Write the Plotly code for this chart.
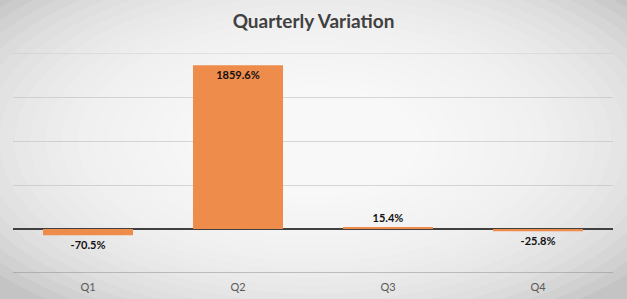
import plotly.graph_objects as go

quarters = ["Q1", "Q2", "Q3", "Q4"]
variation = [-70.5, 1859.6, 15.4, -25.8]
labels = ["-70.5%", "1859.6%", "15.4%", "-25.8%"]
label_pos = ["outside", "inside", "outside", "outside"]

fig = go.Figure()
fig.add_trace(go.Bar(
    x=quarters, y=variation, text=labels, textposition=label_pos,
    insidetextanchor="end", cliponaxis=False,
    marker=dict(color="#EE8C4C", line=dict(width=0)),
    width=0.6,
    textfont=dict(family="Lato", size=11, color="#111111", weight="bold"),
    outsidetextfont=dict(family="Lato", size=11, color="#111111", weight="bold"),
    insidetextfont=dict(family="Lato", size=11, color="#111111", weight="bold"),
    hoverinfo="skip",
))

shapes = []
n = 26
for i in range(n):
    k = 1.0 - i / n
    shapes.append(dict(type="circle", xref="paper", yref="paper", layer="below",
                       x0=0.5 - 0.68 * k, x1=0.5 + 0.68 * k,
                       y0=0.6 - 0.95 * k, y1=0.6 + 0.95 * k,
                       fillcolor="white", opacity=0.12, line=dict(width=0)))
shapes.append(dict(type="line", xref="paper", yref="y", x0=0, x1=1, y0=-500, y1=-500,
                   line=dict(color="#8c8c8c", width=1), layer="below"))
shapes.append(dict(type="line", xref="paper", yref="y", x0=0, x1=1, y0=2000, y1=2000,
                   line=dict(color="rgba(190,190,190,0.6)", width=1), layer="below"))

fig.update_layout(
    width=627, height=299,
    margin=dict(l=13, r=14, t=53, b=26, autoexpand=False),
    paper_bgcolor="#c4c4c4", plot_bgcolor="rgba(0,0,0,0)",
    title=dict(text="<b>Quarterly Variation</b>", x=0.5, xanchor="center", y=0.93, yanchor="middle",
               font=dict(family="Lato", size=19, color="#404040")),
    showlegend=False,
    shapes=shapes,
    bargap=0.4,
    xaxis=dict(showgrid=False, showline=False, ticks="", ticklabelstandoff=6, automargin=False,
               tickfont=dict(family="Lato", size=11, color="#595959")),
    yaxis=dict(range=[-500, 2000], dtick=500, showticklabels=False, showgrid=True, automargin=False,
               gridcolor="rgba(190,190,190,0.6)", gridwidth=1,
               zeroline=True, zerolinecolor="#404040", zerolinewidth=2),
)

fig.write_html("out.html")
